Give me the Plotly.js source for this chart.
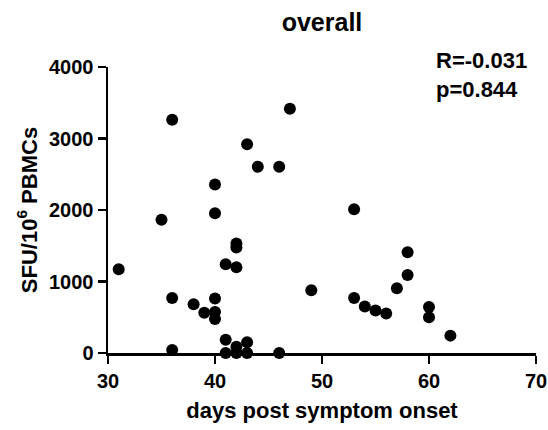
<!DOCTYPE html>
<html>
<head>
<meta charset="utf-8">
<script src="https://cdn.plot.ly/plotly-3.0.1.min.js"></script>
<style>html,body{margin:0;padding:0;background:#fff;}#chart{width:548px;height:430px;}</style>
</head>
<body>
<div id="chart"></div>
<script>
var days = [31,35,36,36,36,38,39,40,40,40,40,40,41,41,41,42,42,42,42,42,43,43,43,44,46,46,47,49,53,53,54,55,56,57,58,58,60,60,62];
var sfu = [1172,1863,3263,770,42,682,564,2357,1956,761,574,476,1242,186,0,1531,1475,1200,88,0,2918,150,0,2605,2605,0,3417,878,2012,770,649,593,551,905,1410,1092,644,500,243];
var xTicks = [30,40,50,60,70];
var yTicks = [0,1000,2000,3000,4000];
var statLines = ["R=-0.031","p=0.844"];

var fam = "Liberation Sans, Arial, Helvetica, sans-serif";
var trace = {
  x: days, y: sfu, type: "scatter", mode: "markers",
  marker: {color: "#000", size: 12},
  cliponaxis: false, hoverinfo: "none"
};
var layout = {
  width: 548, height: 430,
  margin: {l: 108, r: 12, t: 67, b: 77},
  paper_bgcolor: "#fff", plot_bgcolor: "#fff",
  showlegend: false,
  font: {family: fam, color: "#000", weight: "bold"},
  title: {text: "overall", x: 0.5, xref: "paper", xanchor: "center", y: 0.948, yanchor: "middle",
          font: {size: 25, family: fam, weight: "bold", color: "#000"}},
  xaxis: {
    range: [30, 70], tickvals: xTicks, ticktext: xTicks.map(String),
    showline: true, linecolor: "#000", linewidth: 2.5, mirror: false,
    ticks: "outside", ticklen: 8, tickwidth: 2.5, tickcolor: "#000",
    showgrid: false, zeroline: false,
    tickfont: {size: 20, family: fam, weight: "bold", color: "#000"},
    title: {text: "days post symptom onset", standoff: 12, font: {size: 22, family: fam, weight: "bold", color: "#000"}}
  },
  yaxis: {
    range: [0, 4000], tickvals: yTicks, ticktext: yTicks.map(String),
    showline: true, linecolor: "#000", linewidth: 2.5,
    ticks: "outside", ticklen: 8, tickwidth: 2.5, tickcolor: "#000",
    showgrid: false, zeroline: false,
    tickfont: {size: 20, family: fam, weight: "bold", color: "#000"},
    title: {text: "SFU/10<sup>6</sup> PBMCs", standoff: 6, font: {size: 22, family: fam, weight: "bold", color: "#000"}}
  },
  annotations: [
    {text: statLines[0], xref: "paper", yref: "paper", x: 0.762, y: 0.972, xanchor: "left", yanchor: "bottom",
     showarrow: false, font: {size: 22, family: fam, weight: "bold", color: "#000"}},
    {text: statLines[1], xref: "paper", yref: "paper", x: 0.762, y: 0.871, xanchor: "left", yanchor: "bottom",
     showarrow: false, font: {size: 22, family: fam, weight: "bold", color: "#000"}}
  ]
};
Plotly.newPlot("chart", [trace], layout, {displayModeBar: false, staticPlot: true});
</script>
</body>
</html>
